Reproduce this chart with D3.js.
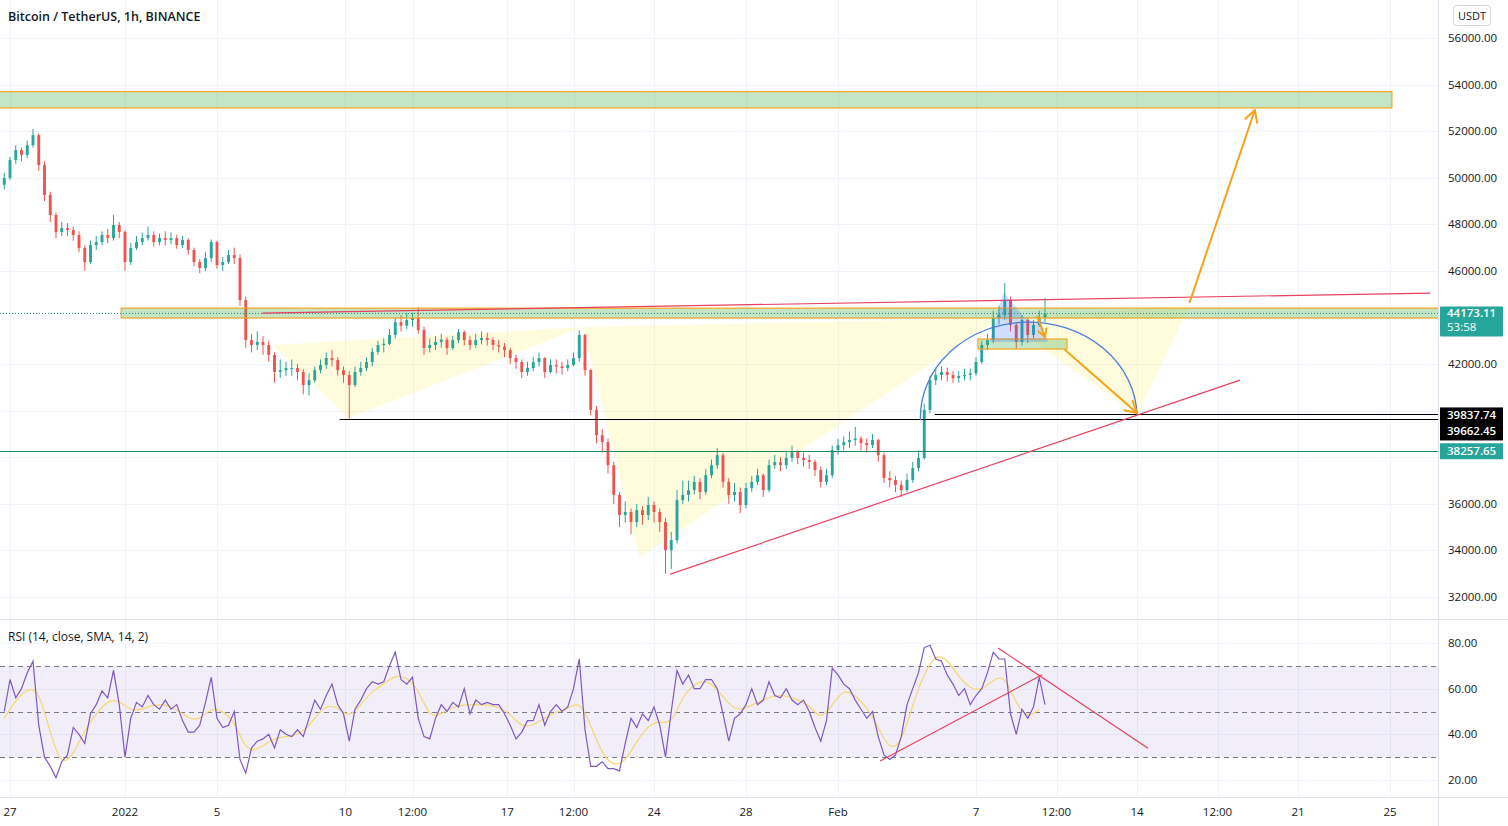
<!DOCTYPE html>
<html><head><meta charset="utf-8">
<script src="https://cdn.jsdelivr.net/npm/d3@7"></script>
<style>
html,body{margin:0;padding:0;background:#fff;}
svg{display:block;font-family:"Open Sans",sans-serif;}
</style></head><body>
<svg id="c" width="1508" height="826"></svg>
<script>
// ---------------- DATA ----------------
const title = "Bitcoin / TetherUS, 1h, BINANCE";
const rsiTitle = "RSI (14, close, SMA, 14, 2)";
const startTime = "2021-12-26T18:00:00Z";   // first candle (6h candles)
const candleHours = 6;
const firstOpen = 49700;
const closes = [
49990,50760,51190,50980,51400,51830,50550,49260,48400,47670,
47840,47760,47540,46980,46380,47110,47240,47540,47410,47970,
47670,46380,46980,47240,47410,47540,47240,47410,47330,47410,
47110,47330,46900,46380,46120,46550,47240,46250,46380,46680,
46550,44750,43030,42820,42950,42820,42390,41660,41740,41830,
41830,41660,41100,41310,41740,41960,42260,42170,41740,41530,
41100,41660,41830,42090,42520,42820,42870,43250,43800,43650,
43890,43980,43460,42690,42820,42950,43050,42690,43030,43370,
43030,42820,43030,43120,43030,42820,42750,42600,42260,42090,
41660,41830,42090,42260,41660,41960,41900,41830,41960,42260,
43250,41740,40030,38950,38650,37660,36380,35520,35650,35220,
35730,35520,35950,35650,35220,34010,34440,36160,36380,36590,
36940,36510,37230,37660,38090,36940,36380,36510,35950,36680,
36940,37230,36590,37660,37790,37660,37970,38220,37970,37880,
37800,37450,36940,37230,38310,38520,38650,38740,38800,38610,
38520,38740,38090,37110,37020,36810,36590,37020,37540,37970,
40030,41310,41530,41660,41530,41400,41490,41530,41600,42090,
42820,43030,43980,44110,44750,43680,42950,43890,43250,43680,
43980,44173.11];
const highs = [
50200,50900,51400,51300,51600,52100,51900,50700,49400,48500,
48100,48050,47900,47700,47100,47300,47500,47700,47800,48400,
48100,47750,47200,47500,47650,47900,47700,47600,47700,47650,
47550,47500,47400,47000,46500,46800,47350,47300,46600,46900,
47000,46700,44900,43300,43400,43200,43000,42500,42200,42100,
42200,42000,41800,41600,41900,42200,42500,42600,42300,41900,
41700,41900,42100,42300,42700,43000,43100,43500,44000,44100,
44200,44200,44450,43600,43100,43200,43300,43150,43200,43500,
43450,43200,43300,43400,43350,43150,43050,42900,42700,42400,
42200,42100,42300,42500,42300,42200,42200,42100,42200,42500,
43450,43300,41800,40200,39200,38800,37800,36500,36100,35800,
36000,35900,36300,36100,35800,35400,34800,36600,37000,37000,
37200,37100,37500,37900,38400,38200,37100,36900,36700,36900,
37200,37500,37300,37900,38100,38000,38200,38500,38300,38200,
38100,37900,37600,37500,38500,38800,38900,39100,39300,38900,
38800,39000,38800,38200,37400,37200,37000,37300,37800,38300,
40300,41500,41800,41900,41850,41700,41700,41800,41800,42300,
43000,43300,44300,44500,45480,44900,43800,44100,44000,43900,
44300,44840];
const lows = [
49500,49900,50600,50700,50850,51300,50300,49000,48100,47400,
47500,47500,47300,46800,46000,46300,46900,47100,47200,47300,
47400,46000,46250,46900,47100,47300,47050,47100,47100,47150,
46950,47000,46700,46200,45900,46000,46400,46100,46000,46300,
46300,44500,42700,42500,42600,42400,42100,41200,41400,41500,
41500,41300,40700,40650,41200,41600,41800,41900,41500,41200,
39650,41000,41500,41700,41900,42400,42500,42800,43100,43400,
43500,43600,43300,42400,42500,42600,42700,42400,42600,42900,
42800,42600,42700,42850,42800,42600,42500,42300,42000,41800,
41400,41500,41700,41900,41400,41600,41600,41550,41700,41900,
42100,41500,39800,38600,38200,37300,36000,35000,35200,34700,
35000,35100,35300,35200,34800,33000,33200,34300,36000,36100,
36400,36200,36400,37100,37500,36700,36000,36100,35600,35800,
36500,36800,36300,36500,37500,37400,37500,37800,37700,37600,
37500,37200,36700,36800,37100,38100,38300,38400,38500,38300,
38200,38400,37800,36900,36700,36500,36300,36500,36900,37400,
37900,39900,41100,41300,41250,41200,41200,41300,41300,41500,
42000,42600,42900,43700,43900,43400,42650,42800,42900,43100,
43600,43800];
const rsi = [
50,64,56,60,67,72,44,30,26,21,
28,31,43,40,36,49,53,59,56,68,
53,30,47,54,52,57,53,51,55,51,
53,46,41,41,44,54,65,47,43,44,
50,29,23,34,37,38,40,34,42,40,
39,42,39,47,55,51,57,62,53,49,
37,51,55,60,63,62,63,70,76,64,
62,65,47,39,38,47,53,50,54,52,
60,49,55,53,54,53,53,49,44,38,
41,46,46,53,44,50,53,50,52,60,
73,42,26,26,28,25,25,24,36,47,
43,49,46,52,44,30,50,68,62,66,
60,60,64,64,60,49,37,47,49,53,
60,53,55,63,57,56,60,55,53,55,
50,43,37,46,69,66,62,60,55,51,
47,50,39,31,29,31,39,53,60,67,
78,79,73,72,66,62,57,60,53,57,
60,67,76,73,73,49,40,51,47,52,
65,53];
const rsiMAHours = 12;  // RSI-MA values read every 12h
const rsiMA = [
47,55,60,60,40,26,31,42,49,55,
55,50,51,53,53,51,47,46,52,50,
46,33,33,37,39,39,41,47,53,52,
47,53,59,62,66,65,60,47,49,52,
53,53,53,52,49,43,44,47,50,51,
55,44,31,26,28,37,44,46,44,57,
62,64,60,53,50,53,55,57,57,55,
53,46,53,60,57,52,43,33,36,53,
67,75,73,65,60,59,64,66,53,47,
51];
const priceGrid = [32000,34000,36000,38000,40000,42000,44000,46000,48000,50000,52000,54000,56000];
const priceTickLabels = [32000,34000,36000,42000,46000,48000,50000,52000,54000,56000];
const rsiTicks = [20,40,60,80];
const rsiBands = [30,50,70];
const timeTicks = ["2021-12-27T00:00:00Z","2022-01-01T00:00:00Z","2022-01-05T00:00:00Z","2022-01-10T14:00:00Z","2022-01-13T12:00:00Z","2022-01-17T15:00:00Z","2022-01-20T12:00:00Z","2022-01-24T00:00:00Z","2022-01-28T00:00:00Z","2022-02-01T00:00:00Z","2022-02-07T00:00:00Z","2022-02-10T12:00:00Z","2022-02-14T00:00:00Z","2022-02-17T12:00:00Z","2022-02-21T00:00:00Z","2022-02-25T00:00:00Z"];
const timeLabels = ["27","2022","5","10","12:00","17","12:00","24","28","Feb","7","12:00","14","12:00","21","25"];
const lastPrice = 44173.11, countdown = "53:58";
const hLevels = [39837.74, 39662.45];
const greenLevel = 38257.65;

// drawings (time, price)
const targetZone = {t1:"2021-12-20T00:00:00Z", t2:"2022-02-25T02:00:00Z", p1:53700, p2:53000};
const neckZone = {t1:"2021-12-31T20:00:00Z", p1:44400, p2:43980};
const smallZone = {t1:"2022-02-07T02:00:00Z", t2:"2022-02-10T23:00:00Z", p1:43075, p2:42646};
const resistLine = [["2022-01-06T23:00:00Z",44190],["2022-02-26T18:00:00Z",45050]];
const supportLine = [["2022-01-24T17:00:00Z",32980],["2022-02-18T11:30:00Z",41310]];
const levelStarts = ["2022-02-05T05:00:00Z","2022-01-10T08:00:00Z"];
const hsPoints = [["2022-01-07T10:00:00Z",42820],["2022-01-10T17:00:00Z",39680],["2022-01-20T22:00:00Z",43590],["2022-01-23T09:00:00Z",33710],["2022-02-08T01:00:00Z",43980],["2022-02-14T00:00:00Z",39810],["2022-02-16T07:00:00Z",44530]];
const arcPts = {start:["2022-02-04T14:00:00Z",39600], end:["2022-02-14T00:00:00Z",39810], top:43800};
const blueFill = [["2022-02-07T14:40:00Z",42946],["2022-02-07T23:00:00Z",44320],["2022-02-08T05:00:00Z",45090],["2022-02-08T11:30:00Z",44750],["2022-02-09T03:00:00Z",43980],["2022-02-09T21:00:00Z",43680],["2022-02-10T03:00:00Z",42946]];
const arrows = [
  [["2022-02-16T07:00:00Z",44660],["2022-02-19T03:00:00Z",52910]],
  [["2022-02-10T21:00:00Z",42600],["2022-02-14T00:00:00Z",39900]],
  [["2022-02-09T16:00:00Z",44050],["2022-02-10T00:00:00Z",43150]]
];
const rsiLines = [[["2022-02-02T20:00:00Z",28.3],["2022-02-09T21:00:00Z",66.1]],[["2022-02-07T23:00:00Z",77.8],["2022-02-14T11:30:00Z",33.9]]];

// ---------------- LAYOUT ----------------
const W=1508,H=826, plotR=1438, priceBottom=619, rsiTop=620, rsiBottom=797;
const DAY=864e5;
const t0 = new Date("2021-12-27T00:00:00Z").getTime();
const x = d3.scaleTime().domain([new Date(t0-10/23*DAY), new Date(t0+1428/23*DAY)]).range([0,plotR]);
const y = d3.scaleLinear().domain([32000,56000]).range([597,38]);
const yr = d3.scaleLinear().domain([20,80]).range([780,643]);
const P = s=>new Date(s);
const svg = d3.select("#c");
const txt = "#131722", gridC="#f0f3fa", sepC="#e0e3eb";

svg.append("defs").html(`<clipPath id="cp"><rect x="0" y="0" width="${plotR}" height="${priceBottom}"/></clipPath>
<clipPath id="cr"><rect x="0" y="${rsiTop}" width="${plotR}" height="${rsiBottom-rsiTop}"/></clipPath>`);

// grid
const g0 = svg.append("g");
g0.selectAll(".vg").data(timeTicks).join("line").attr("x1",d=>Math.round(x(P(d)))+0.5).attr("x2",d=>Math.round(x(P(d)))+0.5)
  .attr("y1",0).attr("y2",rsiBottom).attr("stroke",gridC);
g0.selectAll(".hg").data(priceGrid).join("line").attr("x1",0).attr("x2",plotR).attr("y1",d=>Math.round(y(d))+0.5).attr("y2",d=>Math.round(y(d))+0.5).attr("stroke",gridC);
g0.selectAll(".rg").data(rsiTicks).join("line").attr("x1",0).attr("x2",plotR).attr("y1",d=>Math.round(yr(d))+0.5).attr("y2",d=>Math.round(yr(d))+0.5).attr("stroke",gridC);

// price pane
const gp = svg.append("g").attr("clip-path","url(#cp)");
const tri = (a,b,c)=>[a,b,c].map(p=>[x(P(p[0])),y(p[1])]);
const hsTris = [[0,1,2],[2,3,4],[4,5,6]];
gp.selectAll(".hs").data(hsTris).join("path").attr("d",d=>d3.line()(tri(hsPoints[d[0]],hsPoints[d[1]],hsPoints[d[2]]))+"Z")
  .attr("fill","rgba(255,235,59,0.17)").attr("stroke","none");

// candles
const times = closes.map((c,i)=>new Date(P(startTime).getTime()+i*candleHours*3600e3));
const candles = closes.map((c,i)=>({t:times[i],o:i?closes[i-1]:firstOpen,c,h:highs[i],l:lows[i]}));
const up="#26a69a", dn="#ef5350";
const cw = (x(new Date(t0+candleHours*3600e3))-x(new Date(t0)))*0.5;
const gc = gp.append("g");
gc.selectAll(".w").data(candles).join("line").attr("x1",d=>x(d.t)).attr("x2",d=>x(d.t)).attr("y1",d=>y(d.h)).attr("y2",d=>y(d.l))
  .attr("stroke",d=>d.c>=d.o?up:dn).attr("stroke-width",1);
gc.selectAll(".b").data(candles).join("rect").attr("x",d=>x(d.t)-cw/2).attr("width",cw)
  .attr("y",d=>y(Math.max(d.o,d.c))).attr("height",d=>Math.max(1,Math.abs(y(d.o)-y(d.c))))
  .attr("fill",d=>d.c>=d.o?up:dn);

// zones
function zone(t1,t2,p1,p2){
  const x1=x(P(t1)), x2=t2?x(P(t2)):plotR+5;
  gp.append("rect").attr("x",x1).attr("y",y(p1)).attr("width",x2-x1).attr("height",y(p2)-y(p1))
    .attr("fill","rgba(76,175,80,0.32)").attr("stroke","#f5a524").attr("stroke-width",1.2);
}
zone(targetZone.t1,targetZone.t2,targetZone.p1,targetZone.p2);
zone(neckZone.t1,null,neckZone.p1,neckZone.p2);
zone(smallZone.t1,smallZone.t2,smallZone.p1,smallZone.p2);

// levels
gp.append("line").attr("x1",0).attr("x2",plotR).attr("y1",y(lastPrice)).attr("y2",y(lastPrice)).attr("stroke","#1e8f7e").attr("stroke-dasharray","1,2");
gp.append("line").attr("x1",0).attr("x2",plotR).attr("y1",Math.round(y(greenLevel))+0.5).attr("y2",Math.round(y(greenLevel))+0.5).attr("stroke","#1f8a5b");
hLevels.forEach((p,i)=>{
  gp.append("line").attr("x1",x(P(levelStarts[i]))).attr("x2",plotR).attr("y1",Math.round(y(p))+0.5).attr("y2",Math.round(y(p))+0.5).attr("stroke","#000");
});
// trend lines
const red="#e8405f";
[resistLine,supportLine].forEach(l=>{
  gp.append("path").attr("d",d3.line()(l.map(p=>[x(P(p[0])),y(p[1])]))).attr("stroke",red).attr("stroke-width",1.2).attr("fill","none");
});
// blue fill + arc
gp.append("path").attr("d",d3.line().curve(d3.curveLinear)(blueFill.map(p=>[x(P(p[0])),y(p[1])]))+"Z").attr("fill","rgba(41,98,255,0.22)");
{
  const x1=x(P(arcPts.start[0])), y1=y(arcPts.start[1]), x2=x(P(arcPts.end[0])), y2=y(arcPts.end[1]);
  const rx=(x2-x1)/2, ry=(y1+y2)/2-y(arcPts.top);
  gp.append("path").attr("d",`M${x1},${y1} A${rx},${ry} 0 0 1 ${x2},${y2}`).attr("fill","none").attr("stroke","#4a7fd6").attr("stroke-width",1.3);
}
// arrows
const orange="#f7a21b";
arrows.forEach((a,k)=>{
  const [ax,ay]=[x(P(a[0][0])),y(a[0][1])], [bx,by]=[x(P(a[1][0])),y(a[1][1])];
  const ang=Math.atan2(by-ay,bx-ax), L=k==2?9:13, s=0.5;
  gp.append("path").attr("d",`M${ax},${ay}L${bx},${by}M${bx-L*Math.cos(ang-s)},${by-L*Math.sin(ang-s)}L${bx},${by}L${bx-L*Math.cos(ang+s)},${by-L*Math.sin(ang+s)}`)
    .attr("stroke",orange).attr("stroke-width",2).attr("fill","none").attr("stroke-linecap","round").attr("stroke-linejoin","round");
});

// RSI pane
const gr = svg.append("g").attr("clip-path","url(#cr)");
gr.append("rect").attr("x",0).attr("width",plotR).attr("y",yr(70)).attr("height",yr(30)-yr(70)).attr("fill","rgba(126,87,194,0.1)");
rsiBands.forEach(v=>gr.append("line").attr("x1",0).attr("x2",plotR).attr("y1",Math.round(yr(v))+0.5).attr("y2",Math.round(yr(v))+0.5)
  .attr("stroke","#787b86").attr("stroke-dasharray","5,4").attr("stroke-width",1));
const maTimes = rsiMA.map((v,i)=>new Date(P(startTime).getTime()+i*rsiMAHours*3600e3));
gr.append("path").attr("d",d3.line().curve(d3.curveBasis).x((d,i)=>x(maTimes[i])).y(d=>yr(d))(rsiMA)).attr("fill","none").attr("stroke","#f5d76e").attr("stroke-width",1.2);
gr.append("path").attr("d",d3.line().x((d,i)=>x(times[i])).y(d=>yr(d))(rsi)).attr("fill","none").attr("stroke","#7e57c2").attr("stroke-width",1.2);
rsiLines.forEach(l=>gr.append("path").attr("d",d3.line()(l.map(p=>[x(P(p[0])),yr(p[1])]))).attr("stroke",red).attr("stroke-width",1.2).attr("fill","none"));

// separators
svg.append("line").attr("x1",0).attr("x2",W).attr("y1",619.5).attr("y2",619.5).attr("stroke",sepC);
svg.append("line").attr("x1",plotR+0.5).attr("x2",plotR+0.5).attr("y1",0).attr("y2",H).attr("stroke",sepC);
svg.append("line").attr("x1",0).attr("x2",W).attr("y1",797.5).attr("y2",797.5).attr("stroke",sepC);

// axes text
svg.append("text").attr("x",8).attr("y",21).attr("font-size",12.5).attr("font-weight",600).attr("fill",txt).text(title);
svg.append("text").attr("x",8).attr("y",641).attr("font-size",12).attr("fill",txt).text(rsiTitle);
svg.selectAll(".pt").data(priceTickLabels).join("text").attr("x",1448).attr("y",d=>y(d)+4).attr("font-size",11.5).attr("fill",txt).text(d=>d3.format(".2f")(d));
svg.selectAll(".rt").data(rsiTicks).join("text").attr("x",1448).attr("y",d=>yr(d)+4).attr("font-size",11.5).attr("fill",txt).text(d=>d3.format(".2f")(d));
svg.selectAll(".tt").data(timeTicks).join("text").attr("x",d=>x(P(d))).attr("y",816).attr("text-anchor","middle").attr("font-size",11.5).attr("fill",txt).text((d,i)=>timeLabels[i]);

// USDT button
svg.append("rect").attr("x",1453.5).attr("y",5.5).attr("width",37).attr("height",20).attr("rx",3).attr("fill","#fff").attr("stroke","#d1d4dc");
svg.append("text").attr("x",1472).attr("y",20).attr("text-anchor","middle").attr("font-size",11).attr("fill",txt).text("USDT");

// price labels
const lp=y(lastPrice);
svg.append("rect").attr("x",1440).attr("y",lp-7).attr("width",63).attr("height",30).attr("rx",1).attr("fill","#26a69a");
svg.append("text").attr("x",1447).attr("y",lp+4).attr("font-size",11.5).attr("font-weight",600).attr("fill","#fff").text(d3.format(".2f")(lastPrice));
svg.append("text").attr("x",1447).attr("y",lp+18).attr("font-size",11.5).attr("fill","#fff").text(countdown);
const by0=y(hLevels[0]);
svg.append("rect").attr("x",1440).attr("y",by0-7).attr("width",63).attr("height",33).attr("fill","#000");
hLevels.forEach((p,i)=>svg.append("text").attr("x",1447).attr("y",by0+5+i*16).attr("font-size",11.5).attr("font-weight",600).attr("fill","#fff").text(d3.format(".2f")(p)));
const gy=y(greenLevel);
svg.append("rect").attr("x",1440).attr("y",gy-8).attr("width",63).attr("height",16).attr("fill","#26a69a");
svg.append("text").attr("x",1447).attr("y",gy+4).attr("font-size",11.5).attr("font-weight",600).attr("fill","#fff").text(d3.format(".2f")(greenLevel));
</script></body></html>
